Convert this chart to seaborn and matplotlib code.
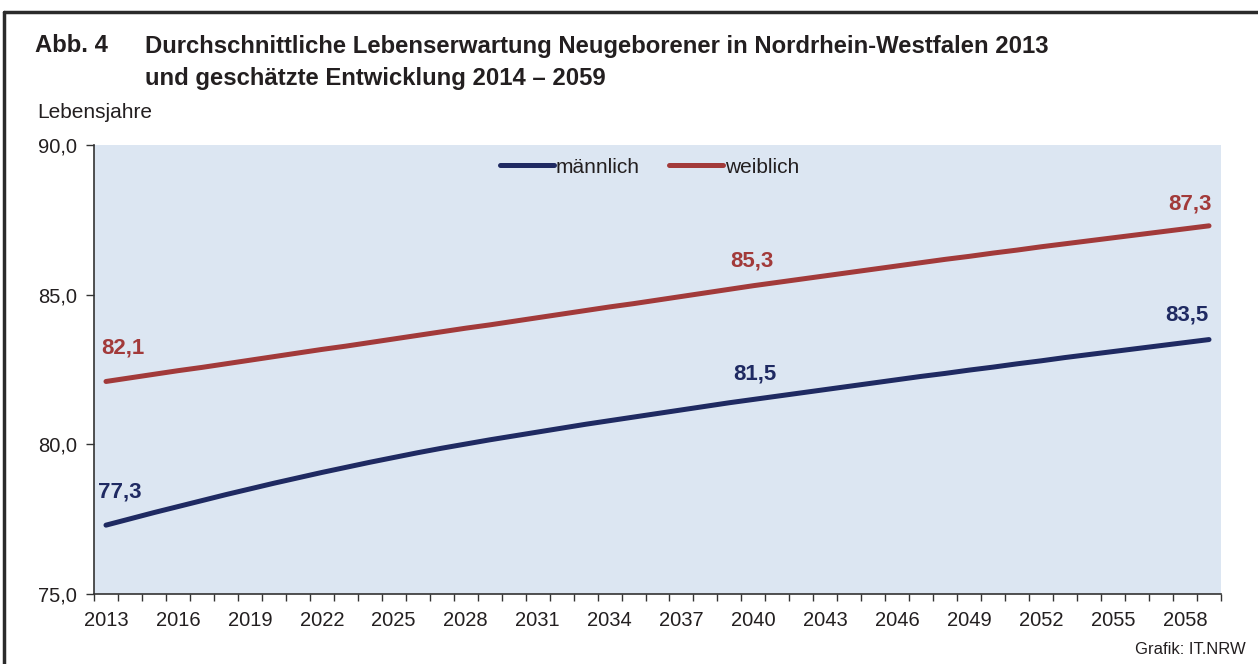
import matplotlib
matplotlib.use("Agg")
import matplotlib.pyplot as plt
import pandas as pd
import seaborn as sns
from matplotlib.lines import Line2D
from matplotlib.ticker import FuncFormatter, MultipleLocator

# Werte (Lebensjahre)
years = list(range(2013, 2060))
maennlich = [
    77.30, 77.51, 77.72, 77.92, 78.12, 78.32, 78.51, 78.70, 78.88, 79.06,
    79.23, 79.40, 79.56, 79.72, 79.87, 80.01, 80.15, 80.28, 80.41, 80.54,
    80.67, 80.79, 80.91, 81.03, 81.15, 81.27, 81.39, 81.50, 81.61, 81.72,
    81.83, 81.94, 82.05, 82.16, 82.27, 82.37, 82.48, 82.58, 82.69, 82.79,
    82.90, 83.00, 83.10, 83.20, 83.30, 83.40, 83.50,
]
weiblich = [
    82.10, 82.22, 82.34, 82.46, 82.57, 82.69, 82.81, 82.93, 83.05, 83.17,
    83.28, 83.40, 83.52, 83.64, 83.76, 83.88, 83.99, 84.11, 84.23, 84.35,
    84.47, 84.59, 84.70, 84.82, 84.94, 85.06, 85.18, 85.30, 85.41, 85.52,
    85.63, 85.74, 85.85, 85.96, 86.07, 86.18, 86.28, 86.39, 86.49, 86.60,
    86.70, 86.80, 86.90, 87.00, 87.10, 87.20, 87.30,
]
series_names = ["männlich", "weiblich"]
label_years = [2013, 2040, 2059]
tick_years = list(range(2013, 2060, 3))

COLORS = {"männlich": "#1f2a62", "weiblich": "#a23a3a"}
BG = "#dce6f2"
TEXT = "#231f20"

df = pd.DataFrame({"Jahr": years, "männlich": maennlich, "weiblich": weiblich})
long_df = df.melt(id_vars="Jahr", var_name="Geschlecht", value_name="Lebensjahre")

sns.set_theme(style="white")
plt.rcParams["font.family"] = ["Liberation Sans", "DejaVu Sans"]

fig = plt.figure(figsize=(12.58, 6.64), dpi=100)
ax = fig.add_axes([94 / 1258, 1 - 594 / 664, (1221 - 94) / 1258, (594 - 145) / 664])
ax.set_facecolor(BG)

sns.lineplot(
    data=long_df, x="Jahr", y="Lebensjahre", hue="Geschlecht",
    palette=COLORS, linewidth=3.6, legend=False, ax=ax,
    solid_capstyle="round",
)

ax.set_xlim(2012.5, 2059.5)
ax.set_ylim(75, 90)
ax.set_xlabel("")
ax.set_ylabel("")

ax.set_xticks(tick_years)
ax.xaxis.set_minor_locator(MultipleLocator(1, offset=0.5))
ax.tick_params(axis="x", which="major", length=0, pad=12, labelsize=14.5, colors=TEXT)
ax.tick_params(axis="x", which="minor", length=5, width=1, color="#333333", direction="out", bottom=True)
ax.set_yticks([75, 80, 85, 90])
ax.yaxis.set_major_formatter(FuncFormatter(lambda v, _: f"{v:.1f}".replace(".", ",")))
ax.tick_params(axis="y", length=6, width=1, color="#333333", direction="out", left=True,
               labelsize=14.5, colors=TEXT, pad=6)

for side in ["top", "right"]:
    ax.spines[side].set_visible(False)
for side in ["left", "bottom"]:
    ax.spines[side].set_color("#333333")
    ax.spines[side].set_linewidth(1.2)

# Werte an ausgewählten Jahren beschriften
offsets = {
    ("männlich", 2013): (10, 24), ("weiblich", 2013): (12, 24),
    ("männlich", 2040): (1, 18), ("weiblich", 2040): (-1, 18),
    ("männlich", 2059): (-16, 18), ("weiblich", 2059): (-14, 16),
}
for name, values in zip(series_names, [maennlich, weiblich]):
    for yr in label_years:
        v = values[years.index(yr)]
        ax.annotate(
            f"{v:.1f}".replace(".", ","), xy=(yr, v), xytext=offsets[(name, yr)],
            textcoords="offset points", ha="center", va="center",
            fontsize=16, fontweight="bold", color=COLORS[name],
        )

handles = [Line2D([0], [0], color=COLORS[n], lw=3.6, solid_capstyle="round") for n in series_names]
leg = ax.legend(
    handles, series_names, loc="center", bbox_to_anchor=(0.493, 0.951), ncol=2,
    frameon=False, fontsize=15, handlelength=2.6, handletextpad=0.1,
    columnspacing=1.4,
)
for t in leg.get_texts():
    t.set_color(TEXT)

# Titel und Beschriftungen
fig.text(35 / 1258, 1 - 46 / 664, "Abb. 4", fontsize=17.2, fontweight="bold", color=TEXT, va="center")
fig.text(145 / 1258, 1 - 46 / 664,
         "Durchschnittliche Lebenserwartung Neugeborener in Nordrhein-Westfalen 2013",
         fontsize=17.2, fontweight="bold", color=TEXT, va="center")
fig.text(145 / 1258, 1 - 79 / 664, "und geschätzte Entwicklung 2014 – 2059",
         fontsize=17.2, fontweight="bold", color=TEXT, va="center")
fig.text(37 / 1258, 1 - 112 / 664, "Lebensjahre", fontsize=15, color=TEXT, va="center")
fig.text(1246 / 1258, 1 - 650 / 664, "Grafik: IT.NRW", fontsize=12, color=TEXT, va="center", ha="right")

# Rahmen oben und links
fig.add_artist(Line2D([4 / 1258, 4 / 1258], [0, 1 - 12 / 664], color="#2b2b2b", lw=2.5, transform=fig.transFigure))
fig.add_artist(Line2D([4 / 1258, 1], [1 - 12 / 664, 1 - 12 / 664], color="#2b2b2b", lw=2.5, transform=fig.transFigure))

fig.savefig("out.png", dpi=100)
